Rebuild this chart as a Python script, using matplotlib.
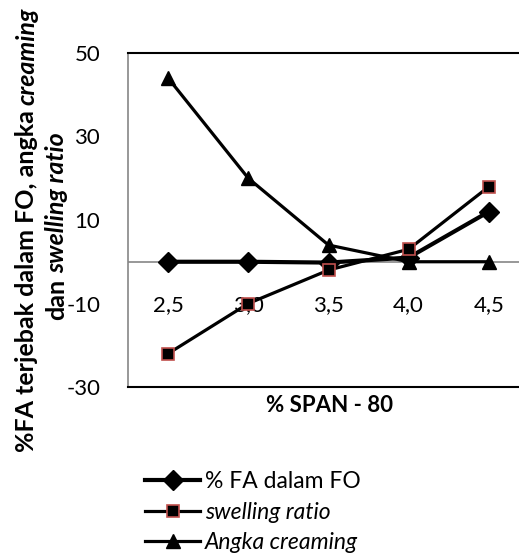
import matplotlib.pyplot as plt

plt.rcParams['font.family'] = ['Lato', 'DejaVu Sans']

span = ['2,5', '3,0', '3,5', '4,0', '4,5']
fa_in_fo = [0.0, 0.0, -0.2, 1.0, 12.0]
swelling = [-22.0, -10.0, -2.0, 3.0, 18.0]
creaming = [44.0, 20.0, 4.0, 0.0, 0.0]
y_ticks = [-30, -10, 10, 30, 50]

W, H = 519, 554
fig = plt.figure(figsize=(W / 100, H / 100), dpi=100)
ax = fig.add_axes([128 / W, (H - 387) / H, 401 / W, 334 / H])

x = list(range(len(span)))
ax.axhline(0, color='#868686', lw=1.2, zorder=1)
ax.plot(x, fa_in_fo, color='black', lw=3, marker='D', ms=10, mfc='black', mec='black',
        label='% FA dalam FO', zorder=3)
ax.plot(x, swelling, color='black', lw=2.3, marker='s', ms=9, mfc='black', mec='#c0504d',
        mew=1.2, label='swelling ratio', zorder=4)
ax.plot(x, creaming, color='black', lw=2.3, marker='^', ms=10, mfc='black', mec='black',
        label='Angka creaming', zorder=2)

ax.set_xlim(-0.5, len(span) - 0.5)
ax.set_ylim(-30, 50)
ax.set_yticks(y_ticks)
ax.set_yticklabels([str(v) for v in y_ticks], fontsize=16)
ax.tick_params(axis='y', length=0, pad=20)
ax.set_xticks([])
for i, lab in enumerate(span):
    ax.annotate(lab, xy=(i, 0), xytext=(0, -31), textcoords='offset points',
                ha='center', va='center', fontsize=16)

ax.spines['left'].set_color('#868686')
ax.spines['left'].set_linewidth(1.2)
for s in ('top', 'bottom', 'right'):
    ax.spines[s].set_color('black')
    ax.spines[s].set_linewidth(1.5)

fig.text(330 / W, 1 - 405 / H, '% SPAN - 80', ha='center', va='center',
         fontsize=16, fontweight='bold')

# y label with mixed bold / bold-italic pieces, rotated
renderer = fig.canvas.get_renderer()
lab_fs = 18
lines = [
    (34, H - 230, [('%FA terjebak dalam FO, angka', 'normal'), ('creaming', 'italic')]),
    (64, H - 226, [('dan', 'normal'), ('swelling ratio', 'italic')]),
]
for base_x, center_y, parts in lines:
    widths = []
    for txt, st in parts:
        t = fig.text(0, 0, txt, fontsize=lab_fs, fontweight='bold', style=st)
        widths.append(t.get_window_extent(renderer).width)
        t.remove()
    gap = lab_fs * 0.3
    total = sum(widths) + gap * (len(parts) - 1)
    y0 = center_y - total / 2
    for (txt, st), w in zip(parts, widths):
        fig.text(base_x / W, y0 / H, txt, fontsize=lab_fs, fontweight='bold', style=st,
                 rotation=90, rotation_mode='anchor', ha='left', va='baseline')
        y0 += w + gap

handles, labels = ax.get_legend_handles_labels()
leg = fig.legend(handles, labels, loc='upper left', bbox_to_anchor=(145 / W, 1 - 471 / H),
                 frameon=False, fontsize=16.5, labelspacing=0.42, handlelength=2.4,
                 handletextpad=0.22, borderpad=0, borderaxespad=0)
leg.get_texts()[1].set_style('italic')
leg.get_texts()[2].set_style('italic')

fig.savefig('out.png', dpi=100)
